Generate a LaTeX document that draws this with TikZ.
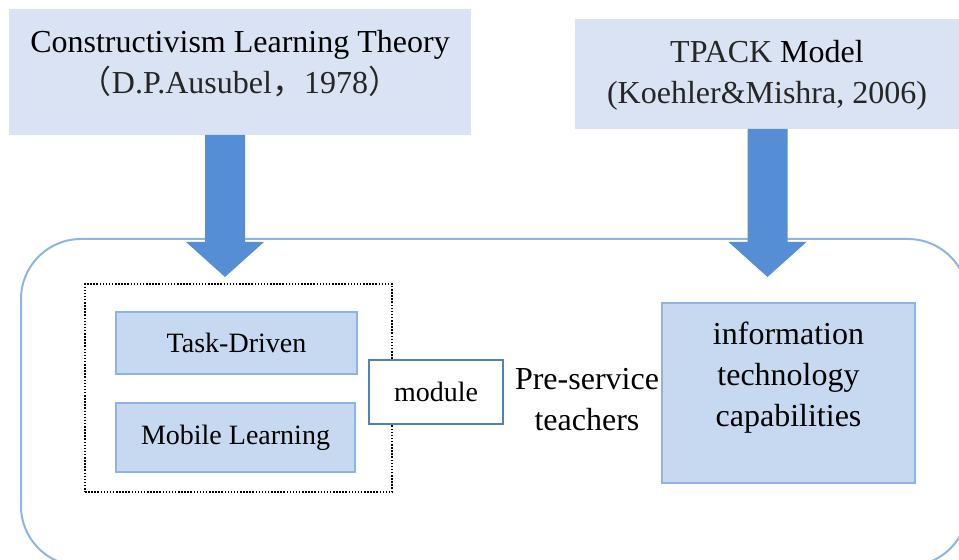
\documentclass[tikz,border=0pt]{standalone}
\usepackage{fontspec}
\setmainfont{Liberation Serif}
\newfontfamily\cjk{Noto Sans CJK SC}
\usetikzlibrary{positioning,calc}
\definecolor{cHead}{HTML}{DAE3F3}
\definecolor{cBox}{HTML}{C6D9F1}
\definecolor{cEdge}{HTML}{8EB4E3}
\definecolor{cArrow}{HTML}{558ED5}
\definecolor{cMod}{HTML}{4F81BD}

\begin{document}
\begin{tikzpicture}[
  x=0.5pt, y=-0.5pt,
  big/.style={font=\fontsize{16}{20.5}\selectfont, align=center, inner sep=0pt},
  small/.style={font=\fontsize{14}{16}\selectfont},
  head/.style={fill=cHead, inner sep=0pt},
  sub/.style={draw=cEdge, fill=cBox, line width=1pt, inner sep=0pt, small},
  modbox/.style={draw=cMod, fill=white, line width=0.9pt, inner sep=0pt,
                 font=\fontsize{14}{16}\selectfont},
  panel/.style={draw=cEdge, line width=1pt, rounded corners=30pt},
  group/.style={draw=black, line width=0.8pt, dash pattern=on 0.75pt off 0.8pt},
  fatarrow/.style={fill=cArrow},
]
\useasboundingbox (0,0) rectangle (959,560);

% ---------------- theories on top ----------------
\node (ltheory) [head, minimum width=231pt, minimum height=63pt] at (240,72) {};
\node (ltheorytxt) [big] at (240,64) {Constructivism Learning Theory\\
  {\color{black!85}{\cjk （}D.P.Ausubel{\cjk ，}1978{\cjk ）}}};

\node (rtheory) [head, minimum width=192pt, minimum height=55pt] at (767,74) {};
\node (rtheorytxt) [big] at (767,75) {{\color{black!85}TPACK} Model\\
  {\color{black!85}(Koehler\&Mishra, 2006)}};

% ---------------- training frame ----------------
\draw[panel] (21,239) rectangle (968,566);

% fat arrows from each theory into the frame
\coordinate (l-top) at (225,135);
\coordinate (l-tip) at (225,277);
\coordinate (r-top) at (767.5,129);
\coordinate (r-tip) at (767.5,277);
\foreach \s in {l,r}
  \fill[fatarrow] ($(\s-top)+(-20,0)$) -- ($(\s-top)+(20,0)$) -- ($(\s-tip)+(20,-35)$)
    -- ($(\s-tip)+(39,-35)$) -- (\s-tip) -- ($(\s-tip)+(-39,-35)$)
    -- ($(\s-tip)+(-20,-35)$) -- cycle;

% ---------------- teaching approach ----------------
\node (group) [group, minimum width=153.5pt, minimum height=104pt] at (238.5,388) {};
\node (task) [sub, minimum width=120.5pt, minimum height=31pt] at (236.5,343) {Task-Driven};
\node (mobile) [sub, minimum width=119.5pt, minimum height=34.5pt,
                below=13.5pt of task.south west, anchor=north west] {Mobile Learning};
\node (module) [modbox, minimum width=67pt, minimum height=32pt] at (436,392) {module};

% ---------------- learners and outcome ----------------
\node (teachers) [big] at (587,400) {Pre-service\\teachers};
\node (itcap) [sub, minimum width=126.5pt, minimum height=90pt] at (788.5,393) {};
\node (itcaptxt) [big, anchor=north] at (788.5,322) {information\\technology\\capabilities};

\end{tikzpicture}
\end{document}
